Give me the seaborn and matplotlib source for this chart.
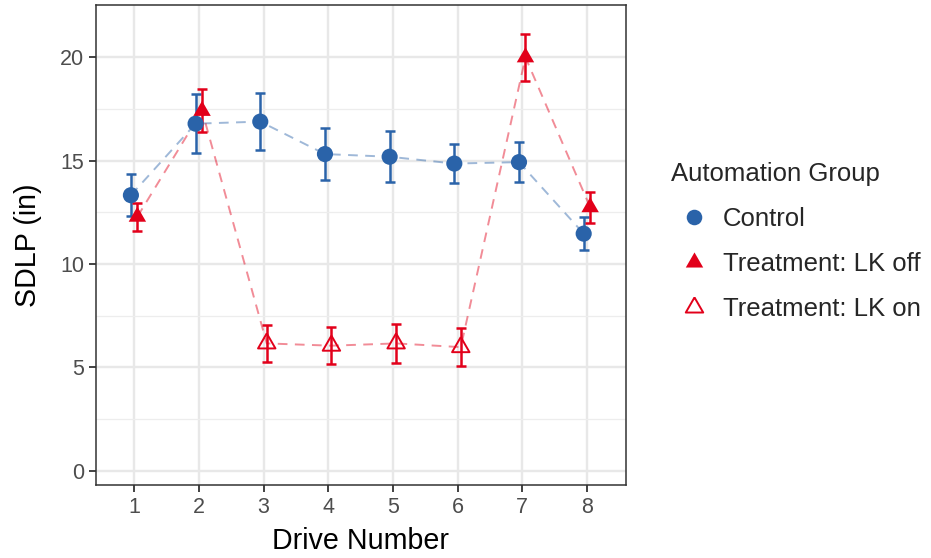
import numpy as np
import pandas as pd
import matplotlib
matplotlib.use("Agg")
import matplotlib.pyplot as plt
from matplotlib.lines import Line2D
import seaborn as sns

# values
drives = [1, 2, 3, 4, 5, 6, 7, 8]
control_mean = [13.33, 16.79, 16.89, 15.32, 15.19, 14.86, 14.93, 11.47]
control_se = [1.03, 1.43, 1.37, 1.26, 1.24, 0.96, 0.98, 0.79]
treat_mean = [12.29, 17.41, 6.16, 6.05, 6.16, 5.98, 20.00, 12.75]
treat_se = [0.68, 1.04, 0.89, 0.89, 0.94, 0.91, 1.13, 0.75]
lk_state = ["off", "off", "on", "on", "on", "on", "off", "off"]

group_names = ["Control", "Treatment: LK off", "Treatment: LK on"]
arm_offset = {"Control": -0.05, "Treatment": 0.05}

BLUE = "#2A63A9"
RED = "#E2001A"

ctrl = pd.DataFrame({"drive": drives, "sdlp": control_mean, "se": control_se,
                     "arm": "Control", "group": "Control"})
treat = pd.DataFrame({"drive": drives, "sdlp": treat_mean, "se": treat_se,
                      "arm": "Treatment",
                      "group": ["Treatment: LK " + s for s in lk_state]})
df = pd.concat([ctrl, treat], ignore_index=True)
df["xpos"] = df["drive"] + df["arm"].map(arm_offset)

sns.set_theme(style="white")
plt.rcParams["font.family"] = ["Liberation Sans", "DejaVu Sans"]

# triangle with its centroid on the data point (like R's pch 17)
tri = [(0, 1), (-0.866, -0.5), (0.866, -0.5), (0, 1)]

fig = plt.figure(figsize=(9.31, 5.58), dpi=100)
ax = fig.add_axes([0.1031, 0.1308, 0.5690, 0.8602])

sns.lineplot(data=df, x="xpos", y="sdlp", hue="arm",
             palette={"Control": BLUE, "Treatment": RED},
             estimator=None, sort=True, linewidth=1.4, alpha=0.45,
             linestyle=(0, (5, 3.8)), legend=False, ax=ax, zorder=1.5)

for arm, col in [("Control", BLUE), ("Treatment", RED)]:
    sub = df[df["arm"] == arm]
    ax.errorbar(sub["xpos"], sub["sdlp"], yerr=sub["se"], fmt="none",
                ecolor=col, elinewidth=1.8, capsize=3.6, capthick=1.8,
                zorder=2)

filled = df[df["group"] != "Treatment: LK on"]
sns.scatterplot(data=filled, x="xpos", y="sdlp", hue="group", style="group",
                palette={"Control": BLUE, "Treatment: LK off": RED},
                markers={"Control": "o", "Treatment: LK off": tri},
                size="group", sizes={"Control": 135, "Treatment: LK off": 210},
                linewidth=0, legend=False, ax=ax, zorder=3)

lk_on = df[df["group"] == "Treatment: LK on"]
ax.scatter(lk_on["xpos"], lk_on["sdlp"], marker=tri, s=210,
           facecolors="none", edgecolors=RED, linewidths=1.4, zorder=3)

ax.set_xlim(0.41, 8.6)
ax.set_ylim(-0.69, 22.53)
ax.set_xticks(drives)
ax.set_xticklabels([str(d) for d in drives])
ax.set_yticks([0, 5, 10, 15, 20])
ax.set_yticks([2.5, 7.5, 12.5, 17.5], minor=True)
ax.set_axisbelow(True)
ax.grid(which="major", color="#E8E8E8", linewidth=1.7)
ax.grid(which="minor", axis="y", color="#EDEDED", linewidth=0.9)
ax.tick_params(which="major", length=4.8, width=1.3, color="#333333",
               labelsize=15.5, labelcolor="#4D4D4D", pad=3.5,
               bottom=True, left=True)
ax.tick_params(which="minor", length=0)
for sp in ax.spines.values():
    sp.set_color("#333333")
    sp.set_linewidth(1.1)

ax.set_xlabel("Drive Number", fontsize=20.6, color="black")
ax.set_ylabel("SDLP (in)", fontsize=20.6, color="black")
ax.xaxis.set_label_coords(0.5, -0.0875)
ax.yaxis.set_label_coords(-0.102, 0.5)

handles = [
    Line2D([], [], linestyle="none", marker="o", markersize=11.2,
           markerfacecolor=BLUE, markeredgewidth=0),
    Line2D([], [], linestyle="none", marker=tri, markersize=14.5,
           markerfacecolor=RED, markeredgewidth=0),
    Line2D([], [], linestyle="none", marker=tri, markersize=14.5,
           markerfacecolor="none", markeredgecolor=RED, markeredgewidth=1.4),
]
leg = fig.legend(handles, group_names, title="Automation Group",
                 loc="upper left", bbox_to_anchor=(0.7205, 0.71),
                 frameon=False, fontsize=18.5, title_fontsize=18.5,
                 handlelength=1.8, handletextpad=0.22, labelspacing=0.82,
                 borderpad=0, borderaxespad=0, alignment="left")

fig.savefig("out.png", dpi=100)
